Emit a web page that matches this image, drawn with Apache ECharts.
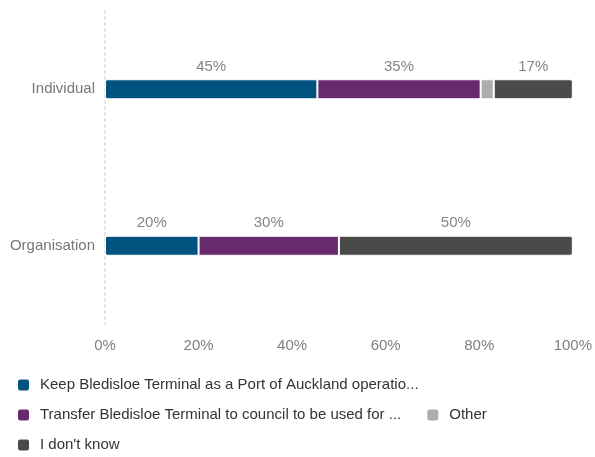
<!DOCTYPE html>
<html><head><meta charset="utf-8">
<script src="https://cdn.jsdelivr.net/npm/echarts@6/dist/echarts.min.js"></script>
<style>html,body{margin:0;padding:0;background:#fff}#c{width:595px;height:457px}</style>
</head><body><div id="c"></div>
<script>
const categories = ['Individual', 'Organisation'];
const seriesNames = [
  'Keep Bledisloe Terminal as a Port of Auckland operatio...',
  'Transfer Bledisloe Terminal to council to be used for ...',
  'Other',
  "I don't know"
];
const keepValues = [45.4, 20];
const transferValues = [34.9, 30];
const otherValues = [2.8, 0];
const dontKnowValues = [16.9, 50];
const xTicks = [0, 20, 40, 60, 80, 100];
const colors = ['#02527f', '#672a6c', '#adadad', '#4a4a4a'];

const allValues = [keepValues, transferValues, otherValues, dontKnowValues];
const font = 'Liberation Sans, Arial, sans-serif';
const radii = [[2,0,0,2],[0,0,0,0],[0,0,0,0],[0,2,2,0]];

const chart = echarts.init(document.getElementById('c'));
chart.setOption({
  animation: false,
  textStyle: {fontFamily: font},
  grid: {left: 105, right: 21, top: 11, bottom: 133, containLabel: false},
  legend: {
    left: 11, width: 500, top: 372,
    itemWidth: 13, itemHeight: 13, itemGap: 14,
    icon: 'roundRect',
    textStyle: {fontFamily: font, fontSize: 15, color: '#333', lineHeight: 16, padding: [0, 10, 0, 5]},
    data: seriesNames
  },
  xAxis: {
    type: 'value', min: 0, max: 100, interval: 20,
    axisLine: {show: false}, axisTick: {show: false}, splitLine: {show: false},
    axisLabel: {color: '#7f7f7f', fontSize: 15, margin: 14, formatter: v => v + '%'}
  },
  yAxis: {
    type: 'category', data: categories, inverse: true,
    axisLine: {show: true, lineStyle: {color: '#e4e4e4', type: [2, 4], width: 2}},
    axisTick: {show: false},
    axisLabel: {color: '#777', fontSize: 15, margin: 10}
  },
  series: seriesNames.map((name, i) => ({
    name: name,
    type: 'bar',
    stack: 'total',
    barWidth: 20,
    data: allValues[i],
    itemStyle: {color: colors[i], borderColor: '#fff', borderWidth: 1, borderRadius: radii[i]},
    label: {
      show: true, position: 'top', distance: 5,
      color: '#858585', fontSize: 15, fontFamily: font,
      formatter: p => p.value >= 5 ? Math.round(p.value) + '%' : ''
    }
  }))
});
</script></body></html>
